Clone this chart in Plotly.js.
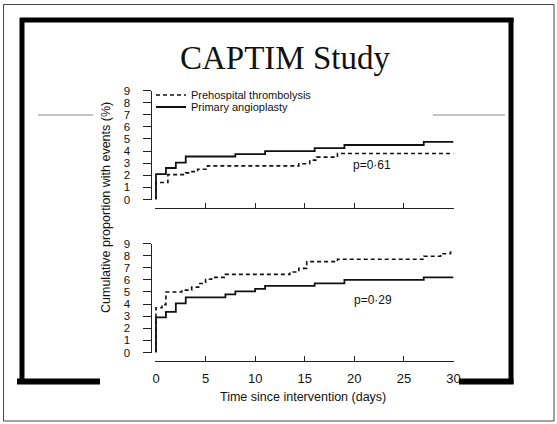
<!DOCTYPE html>
<html>
<head>
<meta charset="utf-8">
<script src="https://cdn.plot.ly/plotly-3.0.1.min.js"></script>
<style>html,body{margin:0;padding:0;background:#fff;}#chart{width:557px;height:424px;}</style>
</head>
<body>
<div id="chart"></div>
<script>
// ---- data ----
const seriesNames = ["Prehospital thrombolysis", "Primary angioplasty"];
const topDaysPre  = [0, 0, 1.2, 3, 3.5, 4.2, 5.2, 14.4, 15.5, 16.2, 18.3, 30];
const topValsPre  = [0, 1.4, 2.05, 2.2, 2.3, 2.5, 2.78, 2.95, 3.25, 3.5, 3.8, 3.8];
const topDaysPrim = [0, 0, 1, 2, 3, 8, 11, 16, 19, 27, 30];
const topValsPrim = [0, 2.1, 2.6, 3.05, 3.55, 3.75, 4.0, 4.25, 4.5, 4.75, 4.75];
const botDaysPre  = [0, 0, 0.6, 1, 2.6, 3.6, 4.3, 5, 5.6, 7, 13.5, 14.4, 15.2, 18.3, 27, 28.7, 29.7, 30];
const botValsPre  = [0, 3.7, 3.95, 5.0, 5.15, 5.4, 5.7, 6.05, 6.2, 6.45, 6.65, 6.95, 7.5, 7.7, 7.95, 8.15, 8.3, 8.3];
const botDaysPrim = [0, 0, 1, 2, 3, 7, 8, 10, 11, 16, 19, 27, 30];
const botValsPrim = [0, 2.9, 3.35, 4.05, 4.55, 4.8, 5.05, 5.25, 5.5, 5.7, 6.0, 6.2, 6.2];
const pTexts = ["p=0\u00b761", "p=0\u00b729"];
const yTickVals = [0,1,2,3,4,5,6,7,8,9];
const xTickVals = [0,5,10,15,20,25,30];

// ---- helpers for pixel placement of decoration ----
const W = 557, H = 424;
const px = x => x / W;
const py = y => 1 - y / H;

const dashStyle = "4px,3px";
const sans = "Liberation Sans, Arial, sans-serif";

const traces = [
  {x: topDaysPre, y: topValsPre, xaxis: "x", yaxis: "y", mode: "lines", line: {shape: "hv", color: "#111", width: 1.6, dash: dashStyle},
   name: seriesNames[0], legend: "legend", legendgroup: "pre", showlegend: true},
  {x: topDaysPrim, y: topValsPrim, xaxis: "x", yaxis: "y", mode: "lines", line: {shape: "hv", color: "#111", width: 1.8},
   name: seriesNames[1], legend: "legend2", legendgroup: "prim", showlegend: true},
  {x: botDaysPre, y: botValsPre, xaxis: "x2", yaxis: "y2", mode: "lines", line: {shape: "hv", color: "#111", width: 1.6, dash: dashStyle},
   name: seriesNames[0], legendgroup: "pre", showlegend: false},
  {x: botDaysPrim, y: botValsPrim, xaxis: "x2", yaxis: "y2", mode: "lines", line: {shape: "hv", color: "#111", width: 1.8},
   name: seriesNames[1], legendgroup: "prim", showlegend: false}
];

const xDomain = [px(155), px(453.5)];
const commonX = {
  domain: xDomain, range: [-0.1, 30], anchor: "free", showline: true, linecolor: "#222", linewidth: 1,
  showgrid: false, zeroline: false, ticks: "inside", ticklen: 5, tickwidth: 1, tickcolor: "#222",
  tickvals: xTickVals, fixedrange: true
};
const commonY = {
  range: [0, 9], anchor: "free", position: px(150.5), showline: true, linecolor: "#222", linewidth: 1,
  showgrid: false, zeroline: false, ticks: "outside", ticklen: 8, tickwidth: 1, tickcolor: "#222",
  tickvals: yTickVals, ticklabelstandoff: 10, tickfont: {family: sans, size: 11.5, color: "#111"}, fixedrange: true
};

const layout = {
  width: W, height: H,
  margin: {l: 0, r: 0, t: 0, b: 0},
  paper_bgcolor: "#fff", plot_bgcolor: "rgba(0,0,0,0)",
  showlegend: true,
  xaxis: Object.assign({}, commonX, {position: py(207.5), showticklabels: false}),
  yaxis: Object.assign({}, commonY, {domain: [py(199.5), py(90.5)]}),
  xaxis2: Object.assign({}, commonX, {position: py(360.5), showticklabels: true, ticklabelstandoff: 6,
    tickfont: {family: sans, size: 13, color: "#111"}}),
  yaxis2: Object.assign({}, commonY, {domain: [py(352.5), py(243.5)]}),
  legend: {x: px(151), y: py(95), xanchor: "left", yanchor: "middle", bgcolor: "rgba(0,0,0,0)",
    font: {family: sans, size: 11, color: "#111"}, borderwidth: 0},
  legend2: {x: px(151), y: py(107), xanchor: "left", yanchor: "middle", bgcolor: "rgba(0,0,0,0)",
    font: {family: sans, size: 11, color: "#111"}, borderwidth: 0},
  annotations: [
    {text: "CAPTIM Study", xref: "paper", yref: "paper", x: px(285), y: py(58), xanchor: "center", yanchor: "middle",
     showarrow: false, font: {family: "Liberation Serif, Times New Roman, serif", size: 33, color: "#111"}},
    {text: "Cumulative proportion with events (%)", xref: "paper", yref: "paper", x: px(106), y: py(208),
     xanchor: "center", yanchor: "middle", textangle: -90, showarrow: false, font: {family: sans, size: 12.5, color: "#111"}},
    {text: "Time since intervention (days)", xref: "paper", yref: "paper", x: px(303), y: py(397),
     xanchor: "center", yanchor: "middle", showarrow: false, font: {family: sans, size: 12.5, color: "#111"}},
    {text: pTexts[0], xref: "paper", yref: "paper", x: px(372), y: py(165), xanchor: "center", yanchor: "middle",
     showarrow: false, font: {family: sans, size: 12, color: "#111"}},
    {text: pTexts[1], xref: "paper", yref: "paper", x: px(373), y: py(300), xanchor: "center", yanchor: "middle",
     showarrow: false, font: {family: sans, size: 12, color: "#111"}}
  ],
  shapes: [
    // outer thin border of the scanned slide
    {type: "rect", xref: "paper", yref: "paper", x0: px(3.5), x1: px(554), y0: py(4.5), y1: py(421), line: {color: "#444", width: 1}},
    // thick slide frame
    {type: "line", xref: "paper", yref: "paper", x0: px(20), x1: px(513.5), y0: py(20), y1: py(20), line: {color: "#000", width: 5}},
    {type: "line", xref: "paper", yref: "paper", x0: px(22), x1: px(22), y0: py(18), y1: py(384), line: {color: "#000", width: 5}},
    {type: "line", xref: "paper", yref: "paper", x0: px(511), x1: px(511), y0: py(18), y1: py(384), line: {color: "#000", width: 5}},
    {type: "line", xref: "paper", yref: "paper", x0: px(17), x1: px(100), y0: py(381.5), y1: py(381.5), line: {color: "#000", width: 6}},
    {type: "line", xref: "paper", yref: "paper", x0: px(459), x1: px(513.5), y0: py(381.5), y1: py(381.5), line: {color: "#000", width: 6}},
    // faint horizontal rules
    {type: "line", xref: "paper", yref: "paper", x0: px(38), x1: px(93), y0: py(115), y1: py(115), line: {color: "#888", width: 1}},
    {type: "line", xref: "paper", yref: "paper", x0: px(433), x1: px(505), y0: py(115), y1: py(115), line: {color: "#888", width: 1}}
  ]
};

Plotly.newPlot("chart", traces, layout, {displayModeBar: false, staticPlot: true});
</script>
</body>
</html>
